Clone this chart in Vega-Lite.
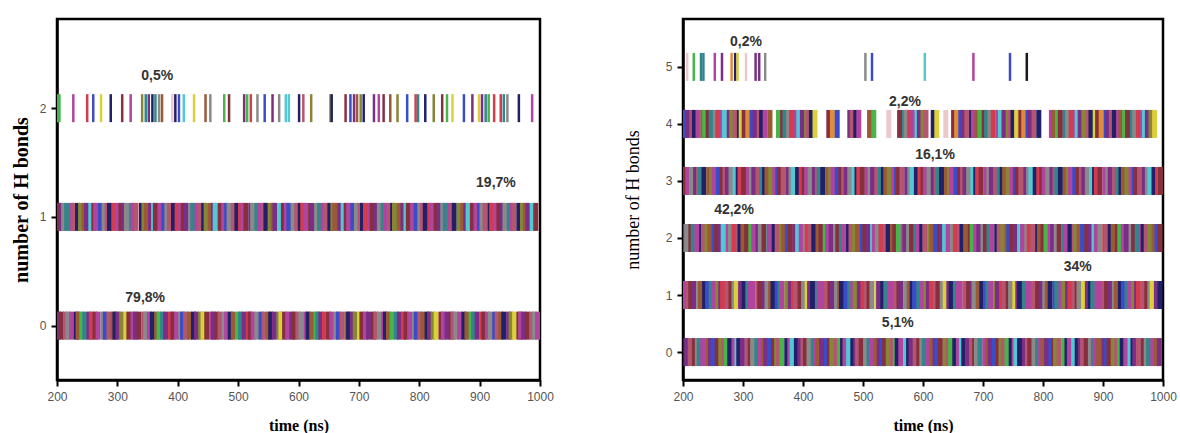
{
"$schema":"https://vega.github.io/schema/vega-lite/v6.json",
"background":"white",
"padding":{"left":10,"top":17,"right":5,"bottom":0},
"spacing":68,
"config":{
"view":{"stroke":"black","strokeWidth":2.5},
"axis":{"domainColor":"black","domainWidth":2.5,"tickColor":"black","tickWidth":2,"tickSize":6,"labelFont":"Liberation Sans","labelFontSize":12,"labelColor":"#555","titleFont":"Liberation Serif","titleFontSize":16,"titleFontWeight":"bold","titleColor":"black","grid":false,"labelFlush":false},
"axisX":{"labelPadding":5,"titlePadding":15,"format":"d"},
"axisY":{"labelPadding":5,"titlePadding":8},
"text":{"font":"Liberation Sans","fontSize":14,"fontWeight":"bold","fill":"#333"}
},
"datasets":{
"L0":[{"t":202,"c":3},{"t":207,"c":6},{"t":214,"c":13},{"t":218,"c":8},{"t":224,"c":4},{"t":232,"c":7},{"t":235,"c":11},{"t":241,"c":1},{"t":246,"c":12},{"t":253,"c":3},{"t":257,"c":0},{"t":263,"c":6},{"t":268,"c":4},{"t":276,"c":8},{"t":280,"c":2},{"t":286,"c":13},{"t":293,"c":11},{"t":296,"c":7},{"t":301,"c":3},{"t":307,"c":5},{"t":314,"c":10},{"t":319,"c":6},{"t":326,"c":4},{"t":330,"c":3},{"t":336,"c":6},{"t":344,"c":13},{"t":347,"c":8},{"t":353,"c":4},{"t":358,"c":7},{"t":365,"c":11},{"t":369,"c":1},{"t":375,"c":12},{"t":380,"c":3},{"t":388,"c":0},{"t":392,"c":6},{"t":398,"c":4},{"t":405,"c":8},{"t":408,"c":2},{"t":413,"c":13},{"t":419,"c":11},{"t":426,"c":7},{"t":431,"c":3},{"t":438,"c":5},{"t":442,"c":10},{"t":448,"c":6},{"t":456,"c":4},{"t":459,"c":3},{"t":465,"c":6},{"t":470,"c":13},{"t":477,"c":8},{"t":481,"c":4},{"t":487,"c":7},{"t":492,"c":11},{"t":500,"c":1},{"t":504,"c":12},{"t":510,"c":3},{"t":517,"c":0},{"t":520,"c":6},{"t":525,"c":4},{"t":531,"c":8},{"t":538,"c":2},{"t":543,"c":13},{"t":550,"c":11},{"t":554,"c":7},{"t":560,"c":3},{"t":568,"c":5},{"t":571,"c":10},{"t":577,"c":6},{"t":582,"c":4},{"t":589,"c":3},{"t":593,"c":6},{"t":599,"c":13},{"t":604,"c":8},{"t":612,"c":4},{"t":616,"c":7},{"t":622,"c":11},{"t":629,"c":1},{"t":632,"c":12},{"t":637,"c":3},{"t":643,"c":0},{"t":650,"c":6},{"t":655,"c":4},{"t":662,"c":8},{"t":666,"c":2},{"t":672,"c":13},{"t":680,"c":11},{"t":683,"c":7},{"t":689,"c":3},{"t":694,"c":5},{"t":701,"c":10},{"t":705,"c":6},{"t":711,"c":4},{"t":716,"c":3},{"t":724,"c":6},{"t":728,"c":13},{"t":734,"c":8},{"t":741,"c":4},{"t":744,"c":7},{"t":749,"c":11},{"t":755,"c":1},{"t":762,"c":12},{"t":767,"c":3},{"t":774,"c":0},{"t":778,"c":6},{"t":784,"c":4},{"t":792,"c":8},{"t":795,"c":2},{"t":801,"c":13},{"t":806,"c":11},{"t":813,"c":7},{"t":817,"c":3},{"t":823,"c":5},{"t":828,"c":10},{"t":836,"c":6},{"t":840,"c":4},{"t":846,"c":3},{"t":853,"c":6},{"t":856,"c":13},{"t":861,"c":8},{"t":867,"c":4},{"t":874,"c":7},{"t":879,"c":11},{"t":886,"c":1},{"t":890,"c":12},{"t":896,"c":3},{"t":904,"c":0},{"t":907,"c":6},{"t":913,"c":4},{"t":918,"c":8},{"t":925,"c":2},{"t":929,"c":13},{"t":935,"c":11},{"t":940,"c":7},{"t":948,"c":3},{"t":952,"c":5},{"t":958,"c":10},{"t":965,"c":6},{"t":968,"c":4},{"t":973,"c":3},{"t":979,"c":6},{"t":986,"c":13},{"t":991,"c":8},{"t":996,"c":4}],
"L1":[{"t":201,"c":6},{"t":207,"c":3},{"t":211,"c":8},{"t":216,"c":12},{"t":224,"c":4},{"t":227,"c":13},{"t":234,"c":7},{"t":239,"c":5},{"t":245,"c":11},{"t":249,"c":3},{"t":256,"c":9},{"t":261,"c":6},{"t":264,"c":4},{"t":272,"c":2},{"t":278,"c":8},{"t":283,"c":13},{"t":287,"c":7},{"t":294,"c":0},{"t":300,"c":4},{"t":306,"c":6},{"t":310,"c":3},{"t":315,"c":8},{"t":323,"c":12},{"t":326,"c":4},{"t":331,"c":13},{"t":340,"c":7},{"t":344,"c":5},{"t":348,"c":11},{"t":355,"c":3},{"t":360,"c":9},{"t":363,"c":6},{"t":371,"c":4},{"t":377,"c":2},{"t":382,"c":8},{"t":386,"c":13},{"t":393,"c":7},{"t":399,"c":0},{"t":405,"c":4},{"t":409,"c":6},{"t":414,"c":3},{"t":422,"c":8},{"t":425,"c":12},{"t":432,"c":4},{"t":437,"c":13},{"t":443,"c":7},{"t":447,"c":5},{"t":454,"c":11},{"t":459,"c":3},{"t":462,"c":9},{"t":470,"c":6},{"t":476,"c":4},{"t":481,"c":2},{"t":485,"c":8},{"t":492,"c":13},{"t":498,"c":7},{"t":504,"c":0},{"t":508,"c":4},{"t":513,"c":6},{"t":521,"c":3},{"t":524,"c":8},{"t":531,"c":12},{"t":536,"c":4},{"t":542,"c":13},{"t":546,"c":7},{"t":553,"c":5},{"t":558,"c":11},{"t":561,"c":3},{"t":569,"c":9},{"t":575,"c":6},{"t":580,"c":4},{"t":584,"c":2},{"t":591,"c":8},{"t":597,"c":13},{"t":603,"c":7},{"t":607,"c":0},{"t":612,"c":4},{"t":620,"c":6},{"t":623,"c":3},{"t":630,"c":8},{"t":635,"c":12},{"t":641,"c":4},{"t":645,"c":13},{"t":652,"c":7},{"t":657,"c":5},{"t":660,"c":11},{"t":668,"c":3},{"t":674,"c":9},{"t":679,"c":6},{"t":683,"c":4},{"t":690,"c":2},{"t":696,"c":8},{"t":702,"c":13},{"t":706,"c":7},{"t":711,"c":0},{"t":719,"c":4},{"t":722,"c":6},{"t":729,"c":3},{"t":734,"c":8},{"t":740,"c":12},{"t":744,"c":4},{"t":751,"c":13},{"t":756,"c":7},{"t":759,"c":5},{"t":767,"c":11},{"t":773,"c":3},{"t":778,"c":9},{"t":782,"c":6},{"t":789,"c":4},{"t":795,"c":2},{"t":801,"c":8},{"t":805,"c":13},{"t":810,"c":7},{"t":818,"c":0},{"t":821,"c":4},{"t":828,"c":6},{"t":833,"c":3},{"t":839,"c":8},{"t":843,"c":12},{"t":850,"c":4},{"t":855,"c":13},{"t":858,"c":7},{"t":866,"c":5},{"t":872,"c":11},{"t":877,"c":3},{"t":881,"c":9},{"t":888,"c":6},{"t":894,"c":4},{"t":900,"c":2},{"t":904,"c":8},{"t":909,"c":13},{"t":917,"c":7},{"t":920,"c":0},{"t":927,"c":4},{"t":932,"c":6},{"t":938,"c":3},{"t":942,"c":8},{"t":949,"c":12},{"t":954,"c":4},{"t":957,"c":13},{"t":965,"c":7},{"t":971,"c":5},{"t":976,"c":11},{"t":980,"c":3},{"t":987,"c":9},{"t":993,"c":6}],
"L2":[{"t":201,"c":1},{"t":204,"c":1},{"t":227,"c":4},{"t":250,"c":0},{"t":260,"c":2},{"t":273,"c":10},{"t":289,"c":7},{"t":308,"c":6},{"t":322,"c":4},{"t":341,"c":5},{"t":347,"c":12},{"t":352,"c":3},{"t":358,"c":7},{"t":363,"c":12},{"t":369,"c":8},{"t":374,"c":11},{"t":391,"c":16},{"t":396,"c":7},{"t":402,"c":2},{"t":410,"c":9},{"t":427,"c":10},{"t":446,"c":11},{"t":454,"c":8},{"t":477,"c":1},{"t":485,"c":6},{"t":510,"c":3},{"t":515,"c":1},{"t":521,"c":0},{"t":532,"c":8},{"t":544,"c":2},{"t":557,"c":3},{"t":568,"c":8},{"t":579,"c":9},{"t":584,"c":9},{"t":601,"c":7},{"t":608,"c":13},{"t":621,"c":5},{"t":653,"c":5},{"t":655,"c":7},{"t":678,"c":6},{"t":686,"c":2},{"t":692,"c":3},{"t":697,"c":11},{"t":703,"c":5},{"t":708,"c":7},{"t":725,"c":3},{"t":733,"c":4},{"t":741,"c":6},{"t":752,"c":11},{"t":764,"c":5},{"t":780,"c":2},{"t":794,"c":0},{"t":798,"c":12},{"t":810,"c":7},{"t":824,"c":5},{"t":838,"c":6},{"t":846,"c":1},{"t":855,"c":10},{"t":874,"c":2},{"t":888,"c":3},{"t":899,"c":10},{"t":904,"c":3},{"t":910,"c":12},{"t":915,"c":1},{"t":924,"c":0},{"t":935,"c":0},{"t":940,"c":12},{"t":946,"c":8},{"t":965,"c":7},{"t":987,"c":4}],
"R0":[{"t":202,"c":7},{"t":206,"c":3},{"t":212,"c":13},{"t":219,"c":6},{"t":224,"c":8},{"t":227,"c":12},{"t":233,"c":4},{"t":241,"c":11},{"t":246,"c":3},{"t":250,"c":2},{"t":257,"c":6},{"t":263,"c":5},{"t":268,"c":13},{"t":272,"c":1},{"t":278,"c":7},{"t":285,"c":4},{"t":290,"c":9},{"t":293,"c":7},{"t":299,"c":3},{"t":307,"c":13},{"t":312,"c":6},{"t":316,"c":8},{"t":323,"c":12},{"t":329,"c":4},{"t":334,"c":11},{"t":338,"c":3},{"t":344,"c":2},{"t":351,"c":6},{"t":356,"c":5},{"t":359,"c":13},{"t":365,"c":1},{"t":373,"c":7},{"t":378,"c":4},{"t":382,"c":9},{"t":389,"c":7},{"t":395,"c":3},{"t":400,"c":13},{"t":404,"c":6},{"t":410,"c":8},{"t":417,"c":12},{"t":422,"c":4},{"t":425,"c":11},{"t":431,"c":3},{"t":439,"c":2},{"t":444,"c":6},{"t":448,"c":5},{"t":455,"c":13},{"t":461,"c":1},{"t":466,"c":7},{"t":470,"c":4},{"t":476,"c":9},{"t":483,"c":7},{"t":488,"c":3},{"t":491,"c":13},{"t":497,"c":6},{"t":505,"c":8},{"t":510,"c":12},{"t":514,"c":4},{"t":521,"c":11},{"t":527,"c":3},{"t":532,"c":2},{"t":536,"c":6},{"t":542,"c":5},{"t":549,"c":13},{"t":554,"c":1},{"t":557,"c":7},{"t":563,"c":4},{"t":571,"c":9},{"t":576,"c":7},{"t":580,"c":3},{"t":587,"c":13},{"t":593,"c":6},{"t":598,"c":8},{"t":602,"c":12},{"t":608,"c":4},{"t":615,"c":11},{"t":620,"c":3},{"t":623,"c":2},{"t":629,"c":6},{"t":637,"c":5},{"t":642,"c":13},{"t":646,"c":1},{"t":653,"c":7},{"t":659,"c":4},{"t":664,"c":9},{"t":668,"c":7},{"t":674,"c":3},{"t":681,"c":13},{"t":686,"c":6},{"t":689,"c":8},{"t":695,"c":12},{"t":703,"c":4},{"t":708,"c":11},{"t":712,"c":3},{"t":719,"c":2},{"t":725,"c":6},{"t":730,"c":5},{"t":734,"c":13},{"t":740,"c":1},{"t":747,"c":7},{"t":752,"c":4},{"t":755,"c":9},{"t":761,"c":7},{"t":769,"c":3},{"t":774,"c":13},{"t":778,"c":6},{"t":785,"c":8},{"t":791,"c":12},{"t":796,"c":4},{"t":800,"c":11},{"t":806,"c":3},{"t":813,"c":2},{"t":818,"c":6},{"t":821,"c":5},{"t":827,"c":13},{"t":835,"c":1},{"t":840,"c":7},{"t":844,"c":4},{"t":851,"c":9},{"t":857,"c":7},{"t":862,"c":3},{"t":866,"c":13},{"t":872,"c":6},{"t":879,"c":8},{"t":884,"c":12},{"t":887,"c":4},{"t":893,"c":11},{"t":901,"c":3},{"t":906,"c":2},{"t":910,"c":6},{"t":917,"c":5},{"t":923,"c":13},{"t":928,"c":1},{"t":932,"c":7},{"t":938,"c":4},{"t":945,"c":9},{"t":950,"c":7},{"t":953,"c":3},{"t":959,"c":13},{"t":967,"c":6},{"t":972,"c":8},{"t":976,"c":12},{"t":983,"c":4},{"t":989,"c":11},{"t":994,"c":3}],
"R1":[{"t":203,"c":4},{"t":209,"c":13},{"t":213,"c":6},{"t":218,"c":3},{"t":226,"c":8},{"t":229,"c":11},{"t":236,"c":7},{"t":241,"c":2},{"t":247,"c":12},{"t":251,"c":4},{"t":258,"c":5},{"t":263,"c":3},{"t":266,"c":0},{"t":274,"c":13},{"t":280,"c":6},{"t":285,"c":8},{"t":289,"c":10},{"t":296,"c":3},{"t":302,"c":7},{"t":308,"c":12},{"t":312,"c":4},{"t":317,"c":4},{"t":325,"c":13},{"t":328,"c":6},{"t":335,"c":3},{"t":340,"c":8},{"t":346,"c":11},{"t":350,"c":7},{"t":357,"c":2},{"t":362,"c":12},{"t":365,"c":4},{"t":373,"c":5},{"t":379,"c":3},{"t":384,"c":0},{"t":388,"c":13},{"t":395,"c":6},{"t":401,"c":8},{"t":407,"c":10},{"t":411,"c":3},{"t":416,"c":7},{"t":424,"c":12},{"t":427,"c":4},{"t":434,"c":4},{"t":439,"c":13},{"t":445,"c":6},{"t":449,"c":3},{"t":456,"c":8},{"t":461,"c":11},{"t":464,"c":7},{"t":472,"c":2},{"t":478,"c":12},{"t":483,"c":4},{"t":487,"c":5},{"t":494,"c":3},{"t":500,"c":0},{"t":506,"c":13},{"t":510,"c":6},{"t":515,"c":8},{"t":523,"c":10},{"t":526,"c":3},{"t":533,"c":7},{"t":538,"c":12},{"t":544,"c":4},{"t":548,"c":4},{"t":555,"c":13},{"t":560,"c":6},{"t":563,"c":3},{"t":571,"c":8},{"t":577,"c":11},{"t":582,"c":7},{"t":586,"c":2},{"t":593,"c":12},{"t":599,"c":4},{"t":605,"c":5},{"t":609,"c":3},{"t":614,"c":0},{"t":622,"c":13},{"t":625,"c":6},{"t":632,"c":8},{"t":637,"c":10},{"t":643,"c":3},{"t":647,"c":7},{"t":654,"c":12},{"t":659,"c":4},{"t":662,"c":4},{"t":670,"c":13},{"t":676,"c":6},{"t":681,"c":3},{"t":685,"c":8},{"t":692,"c":11},{"t":698,"c":7},{"t":704,"c":2},{"t":708,"c":12},{"t":713,"c":4},{"t":721,"c":5},{"t":724,"c":3},{"t":731,"c":0},{"t":736,"c":13},{"t":742,"c":6},{"t":746,"c":8},{"t":753,"c":10},{"t":758,"c":3},{"t":761,"c":7},{"t":769,"c":12},{"t":775,"c":4},{"t":780,"c":4},{"t":784,"c":13},{"t":791,"c":6},{"t":797,"c":3},{"t":803,"c":8},{"t":807,"c":11},{"t":812,"c":7},{"t":820,"c":2},{"t":823,"c":12},{"t":830,"c":4},{"t":835,"c":5},{"t":841,"c":3},{"t":845,"c":0},{"t":852,"c":13},{"t":857,"c":6},{"t":860,"c":8},{"t":868,"c":10},{"t":874,"c":3},{"t":879,"c":7},{"t":883,"c":12},{"t":890,"c":4},{"t":896,"c":4},{"t":902,"c":13},{"t":906,"c":6},{"t":911,"c":3},{"t":919,"c":8},{"t":922,"c":11},{"t":929,"c":7},{"t":934,"c":2},{"t":940,"c":12},{"t":944,"c":4},{"t":951,"c":5},{"t":956,"c":3},{"t":959,"c":0},{"t":967,"c":13},{"t":973,"c":6},{"t":978,"c":8},{"t":982,"c":10},{"t":989,"c":3},{"t":995,"c":7}],
"R2":[{"t":201,"c":3},{"t":206,"c":8},{"t":213,"c":6},{"t":217,"c":12},{"t":223,"c":4},{"t":231,"c":7},{"t":234,"c":13},{"t":240,"c":5},{"t":245,"c":11},{"t":252,"c":2},{"t":256,"c":6},{"t":262,"c":3},{"t":267,"c":9},{"t":275,"c":4},{"t":279,"c":8},{"t":285,"c":0},{"t":292,"c":13},{"t":295,"c":7},{"t":300,"c":11},{"t":306,"c":6},{"t":313,"c":1},{"t":318,"c":4},{"t":325,"c":3},{"t":329,"c":8},{"t":335,"c":6},{"t":343,"c":12},{"t":346,"c":4},{"t":352,"c":7},{"t":357,"c":13},{"t":364,"c":5},{"t":368,"c":11},{"t":374,"c":2},{"t":379,"c":6},{"t":387,"c":3},{"t":391,"c":9},{"t":397,"c":4},{"t":404,"c":8},{"t":407,"c":0},{"t":412,"c":13},{"t":418,"c":7},{"t":425,"c":11},{"t":430,"c":6},{"t":437,"c":1},{"t":441,"c":4},{"t":447,"c":3},{"t":455,"c":8},{"t":458,"c":6},{"t":464,"c":12},{"t":469,"c":4},{"t":476,"c":7},{"t":480,"c":13},{"t":486,"c":5},{"t":491,"c":11},{"t":499,"c":2},{"t":503,"c":6},{"t":509,"c":3},{"t":516,"c":9},{"t":519,"c":4},{"t":524,"c":8},{"t":530,"c":0},{"t":537,"c":13},{"t":542,"c":7},{"t":549,"c":11},{"t":553,"c":6},{"t":559,"c":1},{"t":567,"c":4},{"t":570,"c":3},{"t":576,"c":8},{"t":581,"c":6},{"t":588,"c":12},{"t":592,"c":4},{"t":598,"c":7},{"t":603,"c":13},{"t":611,"c":5},{"t":615,"c":11},{"t":621,"c":2},{"t":628,"c":6},{"t":631,"c":3},{"t":636,"c":9},{"t":642,"c":4},{"t":649,"c":8},{"t":654,"c":0},{"t":661,"c":13},{"t":665,"c":7},{"t":671,"c":11},{"t":679,"c":6},{"t":682,"c":1},{"t":688,"c":4},{"t":693,"c":3},{"t":700,"c":8},{"t":704,"c":6},{"t":710,"c":12},{"t":715,"c":4},{"t":723,"c":7},{"t":727,"c":13},{"t":733,"c":5},{"t":740,"c":11},{"t":743,"c":2},{"t":748,"c":6},{"t":754,"c":3},{"t":761,"c":9},{"t":766,"c":4},{"t":773,"c":8},{"t":777,"c":0},{"t":783,"c":13},{"t":791,"c":7},{"t":794,"c":11},{"t":800,"c":6},{"t":805,"c":1},{"t":812,"c":4},{"t":816,"c":3},{"t":822,"c":8},{"t":827,"c":6},{"t":835,"c":12},{"t":839,"c":4},{"t":845,"c":7},{"t":852,"c":13},{"t":855,"c":5},{"t":860,"c":11},{"t":866,"c":2},{"t":873,"c":6},{"t":878,"c":3},{"t":885,"c":9},{"t":889,"c":4},{"t":895,"c":8},{"t":903,"c":0},{"t":906,"c":13},{"t":912,"c":7},{"t":917,"c":11},{"t":924,"c":6},{"t":928,"c":1},{"t":934,"c":4},{"t":939,"c":3},{"t":947,"c":8},{"t":951,"c":6},{"t":957,"c":12},{"t":964,"c":4},{"t":967,"c":7},{"t":972,"c":13},{"t":978,"c":5},{"t":985,"c":11},{"t":990,"c":2},{"t":995,"c":6}],
"R3":[{"t":204,"c":6},{"t":208,"c":4},{"t":214,"c":8},{"t":221,"c":3},{"t":226,"c":13},{"t":229,"c":12},{"t":235,"c":7},{"t":243,"c":11},{"t":248,"c":5},{"t":252,"c":4},{"t":259,"c":2},{"t":265,"c":6},{"t":270,"c":13},{"t":274,"c":3},{"t":280,"c":8},{"t":287,"c":9},{"t":292,"c":7},{"t":295,"c":0},{"t":301,"c":6},{"t":309,"c":4},{"t":314,"c":8},{"t":318,"c":3},{"t":325,"c":13},{"t":331,"c":12},{"t":336,"c":7},{"t":340,"c":11},{"t":346,"c":5},{"t":353,"c":4},{"t":358,"c":2},{"t":361,"c":6},{"t":367,"c":13},{"t":375,"c":3},{"t":380,"c":8},{"t":384,"c":9},{"t":391,"c":7},{"t":397,"c":0},{"t":402,"c":6},{"t":406,"c":4},{"t":412,"c":8},{"t":419,"c":3},{"t":424,"c":13},{"t":427,"c":12},{"t":433,"c":7},{"t":441,"c":11},{"t":446,"c":5},{"t":450,"c":4},{"t":457,"c":2},{"t":463,"c":6},{"t":468,"c":13},{"t":472,"c":3},{"t":478,"c":8},{"t":485,"c":9},{"t":490,"c":7},{"t":493,"c":0},{"t":499,"c":6},{"t":507,"c":4},{"t":512,"c":8},{"t":516,"c":3},{"t":523,"c":13},{"t":529,"c":12},{"t":534,"c":7},{"t":538,"c":11},{"t":544,"c":5},{"t":551,"c":4},{"t":556,"c":2},{"t":559,"c":6},{"t":565,"c":13},{"t":573,"c":3},{"t":578,"c":8},{"t":582,"c":9},{"t":589,"c":7},{"t":595,"c":0},{"t":600,"c":6},{"t":604,"c":4},{"t":610,"c":8},{"t":617,"c":3},{"t":622,"c":13},{"t":625,"c":12},{"t":631,"c":7},{"t":639,"c":11},{"t":644,"c":5},{"t":648,"c":4},{"t":655,"c":2},{"t":661,"c":6},{"t":666,"c":13},{"t":670,"c":3},{"t":676,"c":8},{"t":683,"c":9},{"t":688,"c":7},{"t":691,"c":0},{"t":697,"c":6},{"t":705,"c":4},{"t":710,"c":8},{"t":714,"c":3},{"t":721,"c":13},{"t":727,"c":12},{"t":732,"c":7},{"t":736,"c":11},{"t":742,"c":5},{"t":749,"c":4},{"t":754,"c":2},{"t":757,"c":6},{"t":763,"c":13},{"t":771,"c":3},{"t":776,"c":8},{"t":780,"c":9},{"t":787,"c":7},{"t":793,"c":0},{"t":798,"c":6},{"t":802,"c":4},{"t":808,"c":8},{"t":815,"c":3},{"t":820,"c":13},{"t":823,"c":12},{"t":829,"c":7},{"t":837,"c":11},{"t":842,"c":5},{"t":846,"c":4},{"t":853,"c":2},{"t":859,"c":6},{"t":864,"c":13},{"t":868,"c":3},{"t":874,"c":8},{"t":881,"c":9},{"t":886,"c":7},{"t":889,"c":0},{"t":895,"c":6},{"t":903,"c":4},{"t":908,"c":8},{"t":912,"c":3},{"t":919,"c":13},{"t":925,"c":12},{"t":930,"c":7},{"t":934,"c":11},{"t":940,"c":5},{"t":947,"c":4},{"t":952,"c":2},{"t":955,"c":6},{"t":961,"c":13},{"t":969,"c":3},{"t":974,"c":8},{"t":978,"c":9},{"t":985,"c":7},{"t":991,"c":0},{"t":996,"c":6}],
"R4":[{"t":203,"c":2},{"t":208,"c":3},{"t":215,"c":13},{"t":219,"c":7},{"t":225,"c":4},{"t":233,"c":11},{"t":236,"c":1},{"t":242,"c":6},{"t":247,"c":12},{"t":254,"c":8},{"t":258,"c":0},{"t":264,"c":4},{"t":269,"c":9},{"t":277,"c":3},{"t":281,"c":5},{"t":287,"c":13},{"t":294,"c":7},{"t":297,"c":10},{"t":302,"c":6},{"t":308,"c":14},{"t":315,"c":2},{"t":320,"c":3},{"t":327,"c":13},{"t":331,"c":7},{"t":337,"c":4},{"t":345,"c":11},{"t":359,"c":1},{"t":366,"c":6},{"t":370,"c":12},{"t":376,"c":8},{"t":381,"c":0},{"t":389,"c":4},{"t":393,"c":9},{"t":399,"c":3},{"t":406,"c":5},{"t":409,"c":13},{"t":414,"c":7},{"t":420,"c":10},{"t":443,"c":6},{"t":449,"c":14},{"t":457,"c":2},{"t":478,"c":3},{"t":482,"c":13},{"t":488,"c":7},{"t":493,"c":4},{"t":511,"c":11},{"t":518,"c":1},{"t":543,"c":16},{"t":561,"c":6},{"t":569,"c":12},{"t":572,"c":8},{"t":578,"c":0},{"t":583,"c":4},{"t":590,"c":9},{"t":594,"c":3},{"t":600,"c":5},{"t":605,"c":13},{"t":617,"c":7},{"t":623,"c":10},{"t":638,"c":16},{"t":651,"c":6},{"t":656,"c":14},{"t":663,"c":2},{"t":667,"c":3},{"t":673,"c":13},{"t":681,"c":7},{"t":684,"c":4},{"t":690,"c":11},{"t":695,"c":1},{"t":702,"c":6},{"t":706,"c":12},{"t":712,"c":8},{"t":717,"c":0},{"t":725,"c":4},{"t":729,"c":9},{"t":735,"c":3},{"t":742,"c":5},{"t":745,"c":13},{"t":750,"c":7},{"t":756,"c":10},{"t":763,"c":6},{"t":768,"c":14},{"t":775,"c":2},{"t":779,"c":3},{"t":785,"c":13},{"t":793,"c":7},{"t":814,"c":4},{"t":818,"c":11},{"t":824,"c":1},{"t":829,"c":6},{"t":837,"c":12},{"t":841,"c":8},{"t":847,"c":0},{"t":854,"c":4},{"t":857,"c":9},{"t":862,"c":3},{"t":868,"c":5},{"t":875,"c":13},{"t":880,"c":7},{"t":887,"c":10},{"t":891,"c":6},{"t":897,"c":14},{"t":905,"c":2},{"t":908,"c":3},{"t":914,"c":13},{"t":919,"c":7},{"t":926,"c":4},{"t":930,"c":11},{"t":936,"c":1},{"t":941,"c":6},{"t":949,"c":12},{"t":953,"c":8},{"t":959,"c":0},{"t":966,"c":4},{"t":969,"c":9},{"t":974,"c":3},{"t":980,"c":5},{"t":986,"c":10}],
"R5":[{"t":207,"c":16},{"t":218,"c":1},{"t":230,"c":12},{"t":234,"c":12},{"t":253,"c":4},{"t":265,"c":3},{"t":281,"c":14},{"t":287,"c":7},{"t":291,"c":10},{"t":305,"c":16},{"t":321,"c":3},{"t":327,"c":3},{"t":337,"c":8},{"t":504,"c":8},{"t":515,"c":2},{"t":603,"c":9},{"t":684,"c":4},{"t":745,"c":2},{"t":773,"c":15}],
"LT":[{"t":366,"y":2.3,"label":"0,5%"},{"t":927,"y":1.31,"label":"19,7%"},{"t":346,"y":0.25,"label":"79,8%"}],
"RT":[{"t":305,"y":5.44,"label":"0,2%"},{"t":570,"y":4.39,"label":"2,2%"},{"t":620,"y":3.46,"label":"16,1%"},{"t":285,"y":2.49,"label":"42,2%"},{"t":858,"y":1.49,"label":"34%"},{"t":558,"y":0.51,"label":"5,1%"}]
},
"hconcat":[
{"width":483,"height":361,
"encoding":{
"x":{"field":"t","type":"quantitative","scale":{"domain":[200,1000],"nice":false,"zero":false},"axis":{"values":[200,300,400,500,600,700,800,900,1000],"title":"time (ns)"}},
"color":{"field":"c","type":"nominal","scale":{"domain":[0,1,2,3,4,5,6,7,8,9,10,11,12,13,14,15,16],"range":["#d23c4e","#48b44a","#3a4cc8","#7a2e86","#b0449e","#868636","#86303e","#222068","#8a8a8a","#52c8d2","#dcd03a","#9a5a36","#32868a","#b45670","#e08c38","#181818","#ecc8cc"]},"legend":null}
},
"layer":[
{"data":{"name":"L0"},"mark":{"type":"tick","orient":"vertical","thickness":5,"size":28,"opacity":1,"clip":true},"encoding":{"y":{"datum":0,"type":"quantitative","scale":{"domain":[-0.5,2.82],"nice":false,"zero":false},"axis":{"values":[0,1,2],"title":"number of H bonds","titleFontSize":20}}}},
{"data":{"name":"L1"},"mark":{"type":"tick","orient":"vertical","thickness":5,"size":28,"opacity":1,"clip":true},"encoding":{"y":{"datum":1,"type":"quantitative","scale":{"domain":[-0.5,2.82],"nice":false,"zero":false},"axis":{"values":[0,1,2],"title":"number of H bonds","titleFontSize":20}}}},
{"data":{"name":"L2"},"mark":{"type":"tick","orient":"vertical","thickness":2.5,"size":28,"opacity":1,"clip":true},"encoding":{"y":{"datum":2,"type":"quantitative","scale":{"domain":[-0.5,2.82],"nice":false,"zero":false},"axis":{"values":[0,1,2],"title":"number of H bonds","titleFontSize":20}}}},
{"data":{"name":"LT"},"mark":{"type":"text","align":"center","baseline":"middle"},"encoding":{"y":{"field":"y","type":"quantitative","scale":{"domain":[-0.5,2.82],"nice":false,"zero":false},"axis":{"values":[0,1,2],"title":"number of H bonds","titleFontSize":20}},"text":{"field":"label"},"color":{"value":"#333"}}}
]},
{"width":480,"height":361,
"encoding":{
"x":{"field":"t","type":"quantitative","scale":{"domain":[200,1000],"nice":false,"zero":false},"axis":{"values":[200,300,400,500,600,700,800,900,1000],"title":"time (ns)"}},
"color":{"field":"c","type":"nominal","scale":{"domain":[0,1,2,3,4,5,6,7,8,9,10,11,12,13,14,15,16],"range":["#d23c4e","#48b44a","#3a4cc8","#7a2e86","#b0449e","#868636","#86303e","#222068","#8a8a8a","#52c8d2","#dcd03a","#9a5a36","#32868a","#b45670","#e08c38","#181818","#ecc8cc"]},"legend":null}
},
"layer":[
{"data":{"name":"R0"},"mark":{"type":"tick","orient":"vertical","thickness":5,"size":28,"opacity":1,"clip":true},"encoding":{"y":{"datum":0,"type":"quantitative","scale":{"domain":[-0.49,5.84],"nice":false,"zero":false},"axis":{"values":[0,1,2,3,4,5],"title":"number of H bonds","titleFontWeight":"normal","titleFontSize":18,"titlePadding":23}}}},
{"data":{"name":"R1"},"mark":{"type":"tick","orient":"vertical","thickness":5,"size":28,"opacity":1,"clip":true},"encoding":{"y":{"datum":1,"type":"quantitative","scale":{"domain":[-0.49,5.84],"nice":false,"zero":false},"axis":{"values":[0,1,2,3,4,5],"title":"number of H bonds","titleFontWeight":"normal","titleFontSize":18,"titlePadding":23}}}},
{"data":{"name":"R2"},"mark":{"type":"tick","orient":"vertical","thickness":5,"size":28,"opacity":1,"clip":true},"encoding":{"y":{"datum":2,"type":"quantitative","scale":{"domain":[-0.49,5.84],"nice":false,"zero":false},"axis":{"values":[0,1,2,3,4,5],"title":"number of H bonds","titleFontWeight":"normal","titleFontSize":18,"titlePadding":23}}}},
{"data":{"name":"R3"},"mark":{"type":"tick","orient":"vertical","thickness":5,"size":28,"opacity":1,"clip":true},"encoding":{"y":{"datum":3,"type":"quantitative","scale":{"domain":[-0.49,5.84],"nice":false,"zero":false},"axis":{"values":[0,1,2,3,4,5],"title":"number of H bonds","titleFontWeight":"normal","titleFontSize":18,"titlePadding":23}}}},
{"data":{"name":"R4"},"mark":{"type":"tick","orient":"vertical","thickness":5,"size":28,"opacity":1,"clip":true},"encoding":{"y":{"datum":4,"type":"quantitative","scale":{"domain":[-0.49,5.84],"nice":false,"zero":false},"axis":{"values":[0,1,2,3,4,5],"title":"number of H bonds","titleFontWeight":"normal","titleFontSize":18,"titlePadding":23}}}},
{"data":{"name":"R5"},"mark":{"type":"tick","orient":"vertical","thickness":2.5,"size":28,"opacity":1,"clip":true},"encoding":{"y":{"datum":5,"type":"quantitative","scale":{"domain":[-0.49,5.84],"nice":false,"zero":false},"axis":{"values":[0,1,2,3,4,5],"title":"number of H bonds","titleFontWeight":"normal","titleFontSize":18,"titlePadding":23}}}},
{"data":{"name":"RT"},"mark":{"type":"text","align":"center","baseline":"middle"},"encoding":{"y":{"field":"y","type":"quantitative","scale":{"domain":[-0.49,5.84],"nice":false,"zero":false},"axis":{"values":[0,1,2,3,4,5],"title":"number of H bonds","titleFontWeight":"normal","titleFontSize":18,"titlePadding":23}},"text":{"field":"label"},"color":{"value":"#333"}}}
]}
]
}
